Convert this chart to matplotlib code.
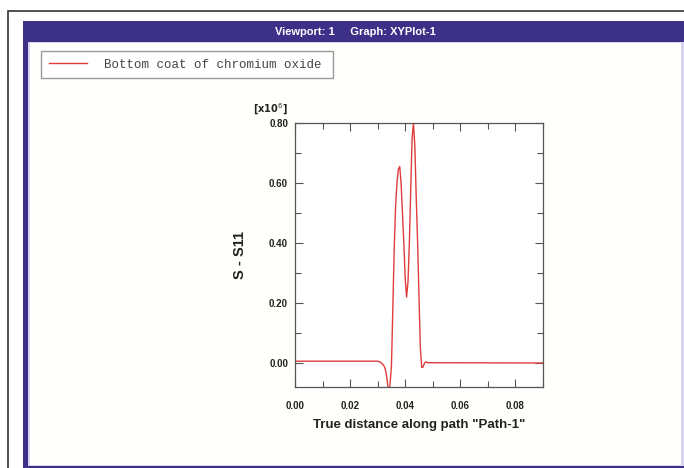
import numpy as np
import matplotlib
matplotlib.use("Agg")
import matplotlib.pyplot as plt
from matplotlib.patches import Rectangle
from matplotlib.ticker import MultipleLocator, FormatStrFormatter

#----data----
dist = [0.000, 0.030, 0.031, 0.032, 0.0325, 0.033, 0.0335, 0.034, 0.0345,
        0.035, 0.0355, 0.036, 0.0365, 0.037, 0.0375, 0.038, 0.0385, 0.039,
        0.0395, 0.040, 0.0405, 0.041, 0.0415, 0.042, 0.0425, 0.043, 0.0435,
        0.044, 0.0445, 0.045, 0.0455, 0.046, 0.0465, 0.047, 0.0475, 0.048, 0.090]
s11 = [0.006, 0.006, 0.003, -0.006, -0.013, -0.03, -0.06, -0.11, -0.07,
       -0.01, 0.18, 0.38, 0.52, 0.60, 0.645, 0.655, 0.60, 0.50,
       0.40, 0.28, 0.22, 0.27, 0.40, 0.58, 0.75, 0.80, 0.72,
       0.55, 0.40, 0.22, 0.05, -0.015, -0.013, 0.0, 0.004, 0.001, 0.0]

series_label = "Bottom coat of chromium oxide"
header = "Viewport: 1     Graph: XYPlot-1"
x_ticks = [0.00, 0.02, 0.04, 0.06, 0.08]
y_ticks = [0.00, 0.20, 0.40, 0.60, 0.80]

W, H = 684, 468
navy = "#3d3088"

def fx(px):
    return px / W

def fy(py):
    return 1 - py / H

def box(x0, y0, x1, y1, **kw):
    # rectangle given in pixel coords (top-left origin), behind the axes
    fig.add_artist(Rectangle((fx(x0), fy(y1)), fx(x1) - fx(x0), fy(y0) - fy(y1),
                             transform=fig.transFigure, zorder=-10, **kw))

fig = plt.figure(figsize=(6.84, 4.68), dpi=100)
fig.patch.set_facecolor("white")

#----frame, viewport panel, title bar----
box(8, 11, 690, 470, facecolor="white", edgecolor="#333333", lw=1.2)
box(23, 21, 700, 468, facecolor=navy, edgecolor="none")
box(28, 42, 700, 466, facecolor="#d8d4f0", edgecolor="none")
box(30, 43, 681, 465, facecolor="#fffffc", edgecolor="none")
fig.text(fx(355), fy(32), header, color="white", fontsize=8, fontweight="bold",
         ha="center", va="center", family="Liberation Sans")

#----axes----
ax = fig.add_axes([fx(295), fy(387), fx(543) - fx(295), fy(123) - fy(387)])
ax.set_facecolor("white")
line, = ax.plot(dist, s11, color="#e03c3c", lw=1.0, label=series_label)
ax.set_xlim(0, 0.09)
ax.set_ylim(-0.08, 0.80)
ax.set_xticks(x_ticks)
ax.set_yticks(y_ticks)
ax.xaxis.set_minor_locator(MultipleLocator(0.01))
ax.yaxis.set_minor_locator(MultipleLocator(0.10))
ax.xaxis.set_major_formatter(FormatStrFormatter("%.2f"))
ax.yaxis.set_major_formatter(FormatStrFormatter("%.2f"))
ax.tick_params(which="both", direction="in", top=True, right=True, color="#555555")
ax.tick_params(which="major", length=6, width=0.8, labelsize=7, labelcolor="#222222")
ax.tick_params(which="minor", length=4, width=0.8)
ax.tick_params(axis="x", which="major", pad=10)
ax.tick_params(axis="y", which="major", pad=5)
for lab in ax.get_xticklabels() + ax.get_yticklabels():
    lab.set_family("Liberation Sans")
    lab.set_fontweight("bold")
for sp in ax.spines.values():
    sp.set_color("#555555")
    sp.set_linewidth(0.9)

ax.set_xlabel('True distance along path "Path-1"', fontsize=9.5, fontweight="bold",
              family="Liberation Sans", color="#222222")
ax.xaxis.set_label_coords(0.5, -0.12)
ax.set_ylabel("S - S11", fontsize=10.5, fontweight="bold",
              family="Liberation Sans", color="#222222")
ax.yaxis.set_label_coords(-0.193, 0.5)
fig.text(fx(270), fy(109), r"[x10$^6$]", fontsize=7, fontweight="bold",
         ha="center", va="center", color="#222222")

#----legend box----
leg = fig.legend([line], [series_label], loc="upper left",
                 bbox_to_anchor=(fx(41), fy(81), fx(333) - fx(41), fy(51) - fy(81)),
                 mode="expand", borderaxespad=0, frameon=True, fancybox=False,
                 edgecolor="#999999", facecolor="white", framealpha=1,
                 prop={"family": "Liberation Mono", "size": 9},
                 handlelength=3.1, handletextpad=1.3, borderpad=0.6)
leg.get_frame().set_linewidth(1.0)
for t in leg.get_texts():
    t.set_color("#444444")

fig.savefig("out.png", dpi=100)
